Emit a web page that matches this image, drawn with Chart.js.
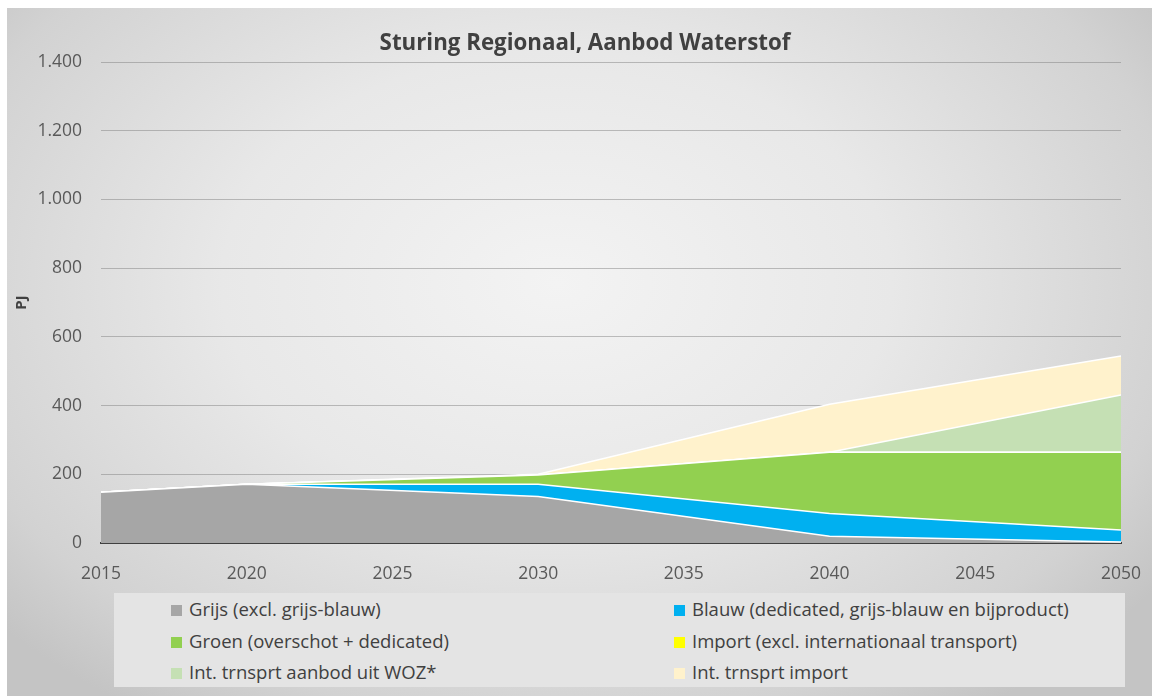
<!DOCTYPE html>
<html>
<head>
<meta charset="utf-8">
<script src="https://cdn.jsdelivr.net/npm/chart.js@4.4.0/dist/chart.umd.min.js"></script>
<style>
  html, body { margin: 0; padding: 0; background: #fff; width: 1152px; height: 696px; overflow: hidden; }
  #frame {
    position: absolute; left: 7px; top: 8px; width: 1145px; height: 688px;
    background: radial-gradient(ellipse 65% 75% at 48% 40%, #f3f3f3 0%, #e8e8e8 45%, #d2d2d2 85%, #c4c4c4 100%);
  }
  #wrap { position: absolute; left: 0; top: 0; width: 1152px; height: 590px; }
  #title {
    position: absolute; left: 285px; width: 600px; top: 26px; text-align: center;
    font-family: "Open Sans", sans-serif; font-weight: bold; font-size: 22.3px; color: #404040;
  }
  #legend {
    position: absolute; left: 114px; top: 593px; width: 1011px; height: 94px;
    background: #e4e4e4; font-family: "Open Sans", sans-serif; font-size: 18.5px; color: #404040;
  }
  .item { position: absolute; height: 24px; line-height: 24px; white-space: nowrap; }
  .item span.box { display: inline-block; width: 11px; height: 11px; margin-right: 7px; vertical-align: 0px; }
</style>
</head>
<body>
<div id="frame"></div>
<div id="wrap"><canvas id="chart"></canvas></div>
<div id="title">Sturing Regionaal, Aanbod Waterstof</div>
<div id="legend"></div>
<script>
// data (PJ)
const years = [2015, 2020, 2030, 2040, 2050];
const grijs = [148, 171, 135, 20, 3];
const blauw = [0, 0, 36, 66, 35];
const groen = [0, 0, 27, 178, 226];
const importH2 = [0, 0, 0, 0, 0];
const intWoz = [0, 0, 0, 0, 167];
const intImport = [0, 0, 2, 140, 113];

const seriesNames = [
  'Grijs (excl. grijs-blauw)',
  'Blauw (dedicated, grijs-blauw en bijproduct)',
  'Groen (overschot + dedicated)',
  'Import (excl. internationaal transport)',
  'Int. trnsprt aanbod uit WOZ*',
  'Int. trnsprt import'
];
const seriesColors = ['#a6a6a6', '#00b0f0', '#92d050', '#ffff00', '#c5e0b4', '#fff2cc'];
const seriesValues = [grijs, blauw, groen, importH2, intWoz, intImport];

const datasets = seriesValues.map((vals, i) => ({
  label: seriesNames[i],
  data: vals.map((v, j) => ({ x: years[j], y: v })),
  backgroundColor: seriesColors[i],
  borderColor: '#ffffff',
  borderWidth: 1.5,
  pointRadius: 0,
  fill: i === 0 ? 'origin' : '-1',
  tension: 0
}));

const ctx = document.getElementById('chart').getContext('2d');
new Chart(ctx, {
  type: 'line',
  data: { datasets: datasets },
  options: {
    responsive: true,
    maintainAspectRatio: false,
    animation: false,
    layout: { padding: { left: 0, right: 31, top: 62, bottom: 0 } },
    plugins: {
      legend: { display: false },
      tooltip: { enabled: false },
      title: { display: false }
    },
    scales: {
      x: {
        type: 'linear',
        min: 2015,
        max: 2050,
        grid: { display: false, drawTicks: false },
        border: { display: true, color: '#404040', width: 2 },
        ticks: {
          stepSize: 5,
          padding: 21,
          color: '#595959',
          font: { family: 'Open Sans', size: 17.5 },
          callback: v => String(v)
        },
        afterFit: s => { s.height = 47; s.paddingRight = 0; s.paddingLeft = 0; }
      },
      y: {
        stacked: true,
        min: 0,
        max: 1400,
        grid: { color: 'rgba(120,120,120,0.45)', lineWidth: 1, drawTicks: false },
        border: { display: false },
        ticks: {
          stepSize: 200,
          padding: 19,
          color: '#595959',
          font: { family: 'Open Sans', size: 17.5 },
          callback: v => v.toLocaleString('nl-NL')
        },
        title: {
          display: true,
          text: 'PJ',
          color: '#404040',
          font: { family: 'Open Sans', size: 15, weight: 'bold' },
          padding: { top: 13, bottom: 0 }
        },
        afterFit: s => { s.width = 101; }
      }
    }
  }
});

// legend in two columns, built from the series arrays
const legend = document.getElementById('legend');
seriesNames.forEach((name, i) => {
  const el = document.createElement('div');
  el.className = 'item';
  el.style.left = (i % 2 === 0 ? 57 : 560) + 'px';
  el.style.top = (4 + Math.floor(i / 2) * 31.5) + 'px';
  el.innerHTML = '<span class="box" style="background:' + seriesColors[i] + '"></span>' + name;
  legend.appendChild(el);
});
</script>
</body>
</html>
